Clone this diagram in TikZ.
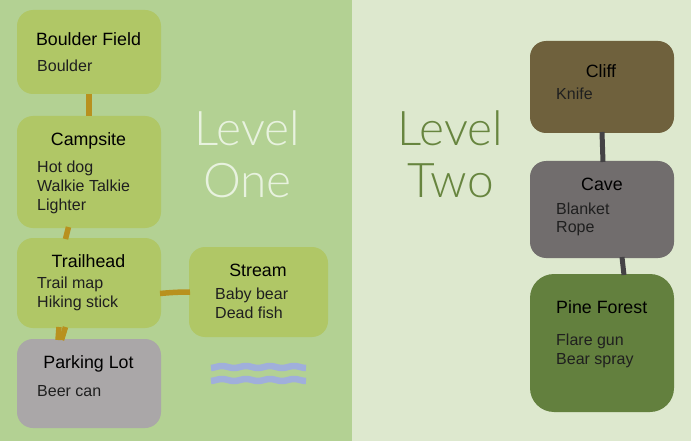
\documentclass[tikz,border=0pt]{standalone}
\usepackage{fontspec}
\usetikzlibrary{calc}
\setmainfont{Liberation Sans}
\newfontfamily\lightfont{Lato Light}
\definecolor{leftbg}{HTML}{B3D193}
\definecolor{rightbg}{HTML}{DDE8CE}
\definecolor{boxgreen}{HTML}{B0C766}
\definecolor{boxgrey}{HTML}{AAA7A8}
\definecolor{boxbrown}{HTML}{6F613D}
\definecolor{boxcave}{HTML}{716D6D}
\definecolor{boxpine}{HTML}{63803E}
\definecolor{linkgold}{HTML}{B8911F}
\definecolor{linkdark}{HTML}{444245}
\definecolor{wavecol}{HTML}{A0AFDB}
\definecolor{lvlone}{HTML}{E8F2DF}
\definecolor{lvltwo}{HTML}{67853F}
\tikzset{
  x=1pt,y=-1pt,
  title/.style={inner sep=0pt,anchor=base,font=\fontsize{17.8}{20}\selectfont,text=black},
  body/.style={inner sep=0pt,anchor=base west,align=left,font=\fontsize{16}{19}\selectfont,text=black!88},
  level/.style={inner sep=0pt,anchor=base,align=center,font=\lightfont\fontsize{47.8}{52}\selectfont},
  goldlink/.style={draw=linkgold,line width=5.5pt},
  darklink/.style={draw=linkdark,line width=5pt},
  wave/.style={draw=wavecol,line width=6.5pt,line cap=butt},
  nodebox/.style n args={3}{rectangle,fill=#3,inner sep=0pt,outer sep=0pt,rounded corners=16pt,minimum width=#1,minimum height=#2,anchor=north west}
}
\begin{document}
\begin{tikzpicture}
\useasboundingbox (0,0) rectangle (691,441);
\fill[rightbg] (0,0) rectangle (691,441);
\fill[leftbg] (0,0) rectangle (352,441);

% boxes
\node[nodebox={144pt}{84pt}{boxgreen}] (boulder) at (17,10) {};
\node[nodebox={144pt}{112pt}{boxgreen}] (campsite) at (17,116) {};
\node[nodebox={144pt}{90pt}{boxgreen}] (trailhead) at (17,238) {};
\node[nodebox={144pt}{89pt}{boxgrey}] (parking) at (17,339) {};
\node[nodebox={139pt}{90pt}{boxgreen}] (stream) at (189,247) {};
\node[nodebox={144pt}{92pt}{boxbrown}] (cliff) at (530,41) {};
\node[nodebox={144pt}{97pt}{boxcave}] (cave) at (530,161) {};
\node[nodebox={144pt}{138pt}{boxpine},rounded corners=24pt] (pine) at (530,274) {};

% connectors
\draw[goldlink] (boulder.south) -- (campsite.north);
\draw[goldlink] ($(campsite.south)+(-20.5,-1)$) -- ($(trailhead.north)+(-23.5,1)$);
\draw[goldlink] ($(trailhead.south)+(-23.5,-1)$) -- ($(parking.north)+(-27.5,1)$);
\draw[goldlink] ($(trailhead.south)+(-30,-1)$) -- ($(parking.north)+(-31,1)$);
\draw[goldlink] ($(trailhead.east)+(-1,10.5)$) .. controls ($(trailhead.east)+(10,9.5)$) and ($(stream.west)+(-10,0)$) .. ($(stream.west)+(1,0)$);
\draw[darklink] ($(cliff.south)+(0,-1)$) -- ($(cave.north)+(1,1)$);
\draw[darklink] ($(cave.south)+(20,-1)$) -- ($(pine.north)+(22,1)$);

% titles
\node[title] (tboulder) at (88.5,46) {Boulder Field};
\node[title] (tcamp) at (88.5,146) {Campsite};
\node[title] (ttrail) at (88.5,267) {Trailhead};
\node[title] (tpark) at (88.5,368) {Parking Lot};
\node[title] (tstream) at (258,276) {Stream};
\node[title] (tcliff) at (601,78) {Cliff};
\node[title] (tcave) at (602,190) {Cave};
\node[title,anchor=base west] (tpine) at (556,313) {Pine Forest};

% item lists
\node[body] (iboulder) at (37,72) {Boulder};
\node[body] (icamp) at (37,210) {Hot dog\\Walkie Talkie\\Lighter};
\node[body] (itrail) at (37,307) {Trail map\\Hiking stick};
\node[body] (ipark) at (37,396) {Beer can};
\node[body] (istream) at (215,318) {Baby bear\\Dead fish};
\node[body] (icliff) at (556,100) {Knife};
\node[body] (icave) at (556,233) {Blanket\\Rope};
\node[body] (ipine) at (556,364) {Flare gun\\Bear spray};

% level labels
\node[level,text=lvlone] (lone) at (247.5,197) {Level\\One};
\node[level,text=lvltwo] (ltwo) at (450.5,197) {Level\\Two};

% water
\draw[wave] plot[domain=211:306,samples=80,smooth] (\x,{367-1*cos((\x-222)*15)});
\draw[wave] plot[domain=211:306,samples=80,smooth] (\x,{380-1*cos((\x-222)*15)});
\end{tikzpicture}
\end{document}
